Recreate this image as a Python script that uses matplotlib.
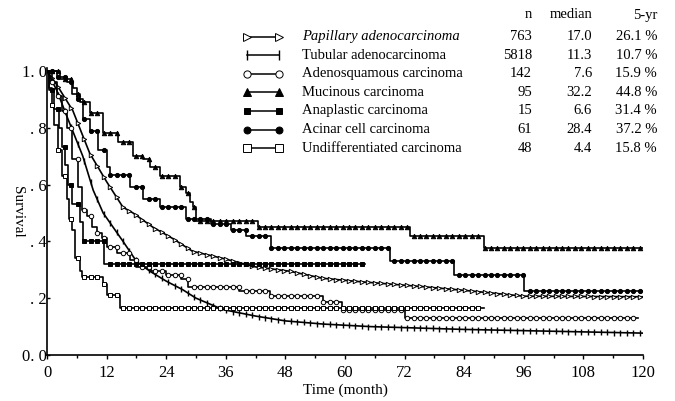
import numpy as np
import matplotlib.pyplot as plt

plt.rcParams['font.family'] = ['Liberation Serif', 'DejaVu Serif']

# survival curves (time in months, survival fraction)
pap_t = [0, 2, 5.2, 8.6, 12, 15.3, 17.3, 21.3, 25.3, 29.3, 35.4, 42, 48.8, 55.5, 63, 76, 85.5, 96, 120]
pap_s = [1.0, 0.95, 0.86, 0.71, 0.61, 0.52, 0.50, 0.45, 0.41, 0.365, 0.34, 0.31, 0.295, 0.27, 0.258, 0.24, 0.225, 0.207, 0.205]

tub_t = [0, 2, 4, 7.2, 9.3, 11.3, 13.3, 15.3, 18, 20.7, 24, 27.3, 30, 35.4, 42, 48, 55.5, 65, 84, 120]
tub_s = [1.0, 0.93, 0.84, 0.70, 0.58, 0.50, 0.45, 0.40, 0.33, 0.295, 0.26, 0.23, 0.20, 0.16, 0.137, 0.12, 0.109, 0.10, 0.09, 0.077]

ade_t = [0, 1, 2, 3, 4, 5, 6.3, 7, 8, 9, 10, 11, 12, 14, 16.7, 18, 21, 24, 27, 28.3, 38.7, 44.8, 55.5, 59.4, 72, 119]
ade_s = [1.0, 0.96, 0.91, 0.86, 0.80, 0.69, 0.59, 0.51, 0.49, 0.45, 0.43, 0.41, 0.38, 0.36, 0.335, 0.31, 0.295, 0.28, 0.267, 0.24, 0.225, 0.207, 0.186, 0.16, 0.13, 0.13]

muc_t = [0, 2.6, 5, 6.6, 8.6, 11.3, 14.2, 17.3, 19.3, 20.7, 22.7, 26.7, 28, 28.7, 29.4, 30, 42.5, 73, 88, 120]
muc_s = [1.0, 0.97, 0.92, 0.89, 0.85, 0.78, 0.75, 0.70, 0.69, 0.66, 0.63, 0.59, 0.57, 0.54, 0.52, 0.47, 0.45, 0.42, 0.375, 0.375]

ana_t = [0, 0.5, 1.5, 2.5, 3, 3.7, 4.3, 5, 6.6, 7.3, 11.5, 64]
ana_s = [1.0, 0.933, 0.867, 0.80, 0.733, 0.667, 0.60, 0.533, 0.467, 0.40, 0.32, 0.32]

aci_t = [0, 2, 4, 5.2, 6, 7.2, 8.6, 10.3, 12, 12.6, 16.7, 19.3, 22.7, 28, 33, 37, 40, 45, 69, 82, 96, 120]
aci_s = [1.0, 0.98, 0.96, 0.94, 0.90, 0.83, 0.79, 0.72, 0.66, 0.635, 0.59, 0.55, 0.52, 0.48, 0.46, 0.44, 0.42, 0.375, 0.33, 0.28, 0.225, 0.225]

und_t = [0, 0.5, 1, 1.5, 2.2, 3, 4, 4.4, 5, 5.6, 6.6, 7, 11.3, 12, 14.6, 88]
und_s = [1.0, 0.94, 0.88, 0.81, 0.72, 0.63, 0.55, 0.48, 0.44, 0.34, 0.295, 0.275, 0.25, 0.21, 0.165, 0.165]

names = ['Papillary adenocarcinoma', 'Tubular adenocarcinoma', 'Adenosquamous carcinoma',
         'Mucinous carcinoma', 'Anaplastic carcinoma', 'Acinar cell carcinoma',
         'Undifferentiated carcinoma']
n_cases = ['763', '5818', '142', '95', '15', '61', '48']
medians = ['17.0', '11.3', '7.6', '32.2', '6.6', '28.4', '4.4']
five_yr = ['26.1 %', '10.7 %', '15.9 %', '44.8 %', '31.4 %', '37.2 %', '15.8 %']

curves = [(pap_t, pap_s, False), (tub_t, tub_s, False), (ade_t, ade_s, True),
          (muc_t, muc_s, True), (ana_t, ana_s, True), (aci_t, aci_s, True),
          (und_t, und_s, True)]
marks = [dict(marker='>', ms=3.2, mfc='white', mew=0.7),
         dict(marker='|', ms=5, mfc='black', mew=1.0),
         dict(marker='o', ms=3.2, mfc='white', mew=0.7),
         dict(marker='^', ms=3.2, mfc='black', mew=0.7),
         dict(marker='s', ms=3.0, mfc='black', mew=0.7),
         dict(marker='o', ms=3.0, mfc='black', mew=0.7),
         dict(marker='s', ms=3.2, mfc='white', mew=0.7)]


def step_path(t, s):
    t = np.asarray(t, float)
    s = np.asarray(s, float)
    return np.repeat(t, 2)[1:], np.repeat(s, 2)[:-1]


def curve_at(t, s, stepped, tt):
    # value of the survival curve at the censoring ticks
    t = np.asarray(t, float)
    s = np.asarray(s, float)
    if stepped:
        idx = np.searchsorted(t, tt, side='right') - 1
        return s[idx]
    return np.interp(tt, t, s)


fig = plt.figure(figsize=(6.75, 4.01), dpi=100)
ax = fig.add_axes([47 / 675, 46 / 401, 596 / 675, 287 / 401])

for (t, s, stepped), mk in zip(curves, marks):
    if stepped:
        x, y = step_path(t, s)
    else:
        x, y = np.asarray(t, float), np.asarray(s, float)
    ax.plot(x, y, color='black', lw=1.2)
    tt = np.arange(1.0, t[-1] - 0.5, 1.3)
    ax.plot(tt, curve_at(t, s, stepped, tt), ls='none', color='black', mec='black', **mk)

ax.set_xlim(0, 120)
ax.set_ylim(0, 1.01)
ax.spines['top'].set_visible(False)
ax.spines['right'].set_visible(False)
ax.spines['left'].set_bounds(0, 1.01)
ax.spines['left'].set_linewidth(1.2)
ax.spines['bottom'].set_linewidth(1.2)
ax.set_xticks(np.arange(0, 121, 12))
ax.set_xticks(np.arange(0, 121, 6), minor=True)
ax.set_yticks([0, 0.2, 0.4, 0.6, 0.8, 1.0])
ax.set_yticklabels(['0. 0', '. 2', '. 4', '. 6', '. 8', '1. 0'])
ax.tick_params(axis='x', direction='out', length=3, width=1, labelsize=12, pad=4)
ax.tick_params(axis='x', which='minor', direction='out', length=2, width=1)
ax.tick_params(axis='y', direction='in', length=2, width=1, labelsize=12, pad=0)
ax.set_xlabel('Time (month)', fontsize=11, labelpad=2)
ax.set_ylabel('Survival', fontsize=11, rotation=-90, va='center', ha='center')
ax.yaxis.set_label_coords(-0.05, 0.5)

# key table in the upper right
def fx(px):
    return px / 675

def fy(py):
    return 1 - py / 401

fs = 10.5
fig.text(fx(532), fy(15), 'n', ha='right', va='center', fontsize=fs)
fig.text(fx(592), fy(15), 'median', ha='right', va='center', fontsize=fs)
fig.text(fx(657), fy(15), '5-yr', ha='right', va='center', fontsize=fs)
for i, (nm, mk) in enumerate(zip(names, marks)):
    yy = fy(36.5 + 18.6 * i)
    key = dict(mk)
    key['ms'] = mk['ms'] + 2
    fig.add_artist(plt.Line2D([fx(247), fx(279)], [yy, yy], color='black', lw=1.1,
                              mec='black', **key))
    style = 'italic' if i == 0 else 'normal'
    fig.text(fx(302), yy, nm, ha='left', va='center', fontsize=fs, style=style)
    fig.text(fx(532), yy, n_cases[i], ha='right', va='center', fontsize=fs)
    fig.text(fx(592), yy, medians[i], ha='right', va='center', fontsize=fs)
    fig.text(fx(657), yy, five_yr[i], ha='right', va='center', fontsize=fs)

fig.savefig('out.png', dpi=100)
